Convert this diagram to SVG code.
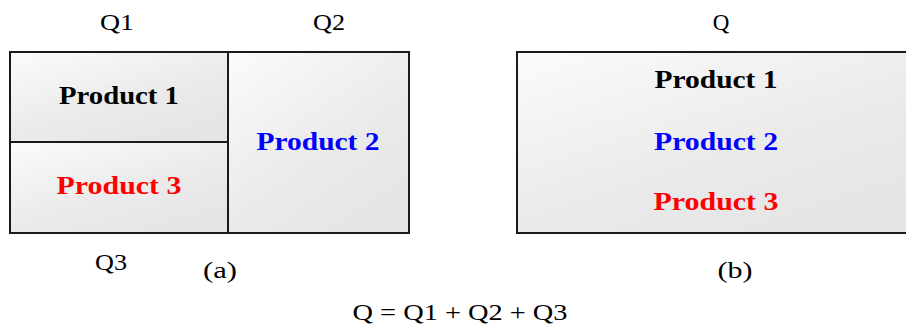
<svg xmlns="http://www.w3.org/2000/svg" width="906" height="331" viewBox="0 0 906 331">
  <defs>
    <linearGradient id="fillG" x1="0" y1="0" x2="0.7" y2="1">
      <stop offset="0" stop-color="#fbfbfb"/>
      <stop offset="0.6" stop-color="#ebebeb"/>
      <stop offset="1" stop-color="#e5e5e5"/>
    </linearGradient>
    <style>
      .cell { fill: url(#fillG); stroke: #1a1a1a; stroke-width: 2; }
      .prod { font-family: "Liberation Serif", "Times New Roman", serif; font-weight: bold; font-size: 26px; text-anchor: middle; }
      .lbl { font-family: "Liberation Serif", "Times New Roman", serif; font-size: 23px; text-anchor: middle; fill: #000; }
      .k { fill: #000; }
      .b { fill: #0000ff; }
      .r { fill: #ff0000; }
    </style>
  </defs>

  <g id="diagram-a">
    <g id="cell-product1">
      <rect class="cell" x="10" y="52" width="218" height="90"/>
      <text class="prod k" x="119" y="104" textLength="120" lengthAdjust="spacingAndGlyphs">Product 1</text>
    </g>
    <g id="cell-product3">
      <rect class="cell" x="10" y="142" width="218" height="91"/>
      <text class="prod r" x="119" y="194" textLength="125" lengthAdjust="spacingAndGlyphs">Product 3</text>
    </g>
    <g id="cell-product2">
      <rect class="cell" x="228" y="52" width="181" height="181"/>
      <text class="prod b" x="318" y="150" textLength="123" lengthAdjust="spacingAndGlyphs">Product 2</text>
    </g>
    <text class="lbl" x="117" y="30" textLength="34" lengthAdjust="spacingAndGlyphs">Q1</text>
    <text class="lbl" x="329" y="30" textLength="32" lengthAdjust="spacingAndGlyphs">Q2</text>
    <text class="lbl" x="111" y="270" textLength="32" lengthAdjust="spacingAndGlyphs">Q3</text>
    <text class="lbl" x="220" y="278" textLength="34" lengthAdjust="spacingAndGlyphs">(a)</text>
  </g>

  <g id="diagram-b">
    <g id="box-q">
      <rect class="cell" x="517" y="52" width="395" height="181"/>
      <text class="prod k" x="716" y="88" textLength="123" lengthAdjust="spacingAndGlyphs">Product 1</text>
      <text class="prod b" x="716" y="150" textLength="124" lengthAdjust="spacingAndGlyphs">Product 2</text>
      <text class="prod r" x="716" y="210" textLength="125" lengthAdjust="spacingAndGlyphs">Product 3</text>
    </g>
    <text class="lbl" x="721" y="30">Q</text>
    <text class="lbl" x="735" y="278" textLength="35" lengthAdjust="spacingAndGlyphs">(b)</text>
  </g>

  <text class="lbl" x="460" y="320" textLength="215" lengthAdjust="spacingAndGlyphs">Q = Q1 + Q2 + Q3</text>
</svg>
